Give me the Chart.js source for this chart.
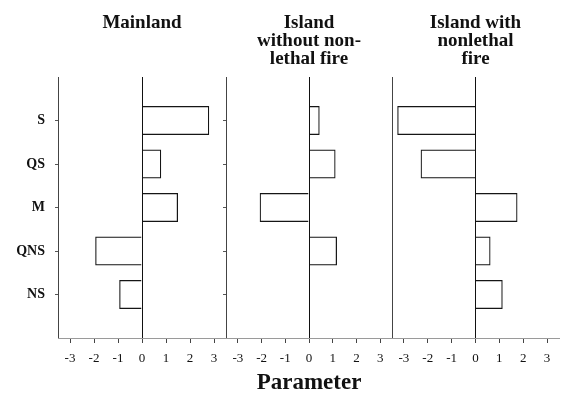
<!DOCTYPE html>
<html>
<head>
<meta charset="utf-8">
<script src="https://cdn.jsdelivr.net/npm/chart.js@4.4.1/dist/chart.umd.min.js"></script>
<style>
  html, body { margin: 0; padding: 0; background: #fff; }
  #wrap { position: relative; width: 563px; height: 395px; overflow: hidden; background: #fff; }
  #wrap canvas { position: absolute; top: 0; }
</style>
</head>
<body>
<div id="wrap">
  <canvas id="c1" width="234" height="395" style="left:0px"></canvas>
  <canvas id="c2" width="200" height="395" style="left:200px"></canvas>
  <canvas id="c3" width="193" height="395" style="left:370px"></canvas>
</div>
<script>
// Categories (top to bottom) and parameter estimates per population
const categories = ['S', 'QS', 'M', 'QNS', 'NS'];
const tickValues = [-3, -2, -1, 0, 1, 2, 3];
const mainland = [2.8, 0.8, 1.5, -1.95, -0.95];
const islandNoFire = [0.45, 1.12, -2.08, 1.18, null];
const islandFire = [-3.28, -2.3, 1.76, 0.63, 1.14];

// Panel headings and shared axis title
const titleMainland = ['Mainland'];
const titleIslandNoFire = ['Island', 'without non-', 'lethal fire'];
const titleIslandFire = ['Island with', 'nonlethal', 'fire'];
const axisTitle = 'Parameter';

const SERIF = '"Liberation Serif", "Times New Roman", serif';

// Draws a (multi-line) bold heading centred over the plot area
const panelTitle = {
  id: 'panelTitle',
  afterDraw(chart, args, opts) {
    const { ctx, chartArea } = chart;
    const cx = (chartArea.left + chartArea.right) / 2;
    ctx.save();
    ctx.font = 'bold 19px ' + SERIF;
    ctx.fillStyle = '#111';
    ctx.textAlign = 'center';
    ctx.textBaseline = 'alphabetic';
    (opts.lines || []).forEach((t, i) => ctx.fillText(t, cx, 28 + i * 18));
    ctx.restore();
  }
};

function makePanel(id, values, titleLines, cfg) {
  // blank slots above and below keep a band of space around the bars
  const labels = [''].concat(categories, ['']);
  const data = [null].concat(values, [null]);
  const last = labels.length - 1;
  return new Chart(document.getElementById(id), {
    type: 'bar',
    data: {
      labels: labels,
      datasets: [{
        data: data,
        backgroundColor: 'rgba(255,255,255,0)',
        borderColor: '#151515',
        borderWidth: 1.2,
        borderSkipped: 'start',
        categoryPercentage: 0.67,
        barPercentage: 1
      }]
    },
    options: {
      indexAxis: 'y',
      responsive: false,
      animation: false,
      events: [],
      layout: { padding: { top: 77, right: cfg.rightPad, left: 0, bottom: 0 } },
      plugins: {
        legend: { display: false },
        tooltip: { enabled: false },
        title: { display: false },
        panelTitle: { lines: titleLines }
      },
      scales: {
        y: {
          type: 'category',
          offset: false,
          afterFit: s => { s.width = cfg.yWidth; },
          grid: {
            offset: false,
            drawOnChartArea: false,
            drawTicks: cfg.yTicks,
            tickLength: 3,
            tickColor: c => (c.index === 0 || c.index === last) ? 'rgba(0,0,0,0)' : '#555'
          },
          border: { display: true, color: '#444', width: 1 },
          ticks: {
            display: cfg.yLabels,
            autoSkip: false,
            padding: 10,
            color: '#111',
            font: { family: SERIF, size: 14, weight: 'bold' }
          }
        },
        x: {
          type: 'linear',
          min: -3.5,
          max: 3.5,
          afterBuildTicks: s => { s.ticks = tickValues.map(v => ({ value: v })); },
          afterFit: s => { s.height = 57; },
          grid: {
            drawOnChartArea: true,
            drawTicks: true,
            tickLength: 5,
            lineWidth: 1,
            color: c => (c.tick && c.tick.value === 0) ? '#111' : 'rgba(0,0,0,0)',
            tickColor: '#444'
          },
          border: { display: true, color: '#9a9a9a', width: 1 },
          ticks: {
            autoSkip: false,
            maxRotation: 0,
            padding: 8,
            color: '#111',
            font: { family: SERIF, size: 13 },
            callback: v => String(v)
          },
          title: {
            display: cfg.axisTitle,
            text: axisTitle,
            color: '#111',
            padding: 0,
            font: { family: SERIF, size: 23, weight: 'bold', lineHeight: 1.0 }
          }
        }
      }
    },
    plugins: [panelTitle]
  });
}

makePanel('c1', mainland, titleMainland, { yWidth: 58, rightPad: 8, yTicks: true, yLabels: true, axisTitle: false });
makePanel('c2', islandNoFire, titleIslandNoFire, { yWidth: 26, rightPad: 8, yTicks: true, yLabels: false, axisTitle: true });
makePanel('c3', islandFire, titleIslandFire, { yWidth: 22, rightPad: 4, yTicks: false, yLabels: false, axisTitle: false });
</script>
</body>
</html>
